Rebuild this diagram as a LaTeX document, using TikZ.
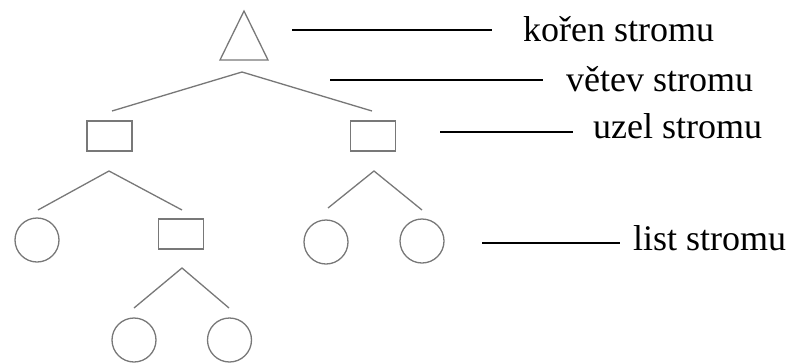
\documentclass[tikz,border=0pt]{standalone}
\usepackage{fontspec}
\setmainfont{Liberation Serif}
\usetikzlibrary{shapes.geometric}
\definecolor{treegray}{RGB}{120,120,120}
\tikzset{
  treeline/.style={draw=treegray, line width=1.3pt},
  rectbox/.style={treeline, rectangle, minimum width=45pt, minimum height=30pt, inner sep=0pt, outer sep=0pt},
  leafnode/.style={treeline, circle, minimum size=44pt, inner sep=0pt, outer sep=0pt},
  rootnode/.style={treeline, isosceles triangle, shape border rotate=90, isosceles triangle stretches, minimum width=48pt, minimum height=49pt, inner sep=0pt, outer sep=0pt},
  labeltext/.style={anchor=base west, inner sep=0pt, font=\fontsize{36}{40}\selectfont},
  labelline/.style={draw=black, line width=1.1pt}
}
\begin{document}
\begin{tikzpicture}[x=1pt,y=-1pt]
\useasboundingbox (0,0) rectangle (790,362);
% nodes
\node[rootnode, anchor=apex] (root) at (244,11) {};
\node[rectbox] (u1) at (109.5,136) {};
\node[rectbox] (u2) at (373,136) {};
\node[leafnode] (l1) at (37,240) {};
\node[rectbox] (u3) at (181,234) {};
\node[leafnode] (l2) at (326,242) {};
\node[leafnode] (l3) at (422,241) {};
\node[leafnode] (l4) at (134,340) {};
\node[leafnode] (l5) at (229.5,340) {};
% branch coordinates
\coordinate (b0) at (242,72);
\coordinate (b0l) at (112,111);
\coordinate (b0r) at (372,111);
\coordinate (b1) at (109,171);
\coordinate (b1l) at (38,210);
\coordinate (b1r) at (182,210);
\coordinate (b2) at (374,171);
\coordinate (b2l) at (328,208);
\coordinate (b2r) at (422,210);
\coordinate (b3) at (182,268);
\coordinate (b3l) at (134,308);
\coordinate (b3r) at (229,308);
\draw[treeline] (b0l) -- (b0) -- (b0r);
\draw[treeline] (b1l) -- (b1) -- (b1r);
\draw[treeline] (b2l) -- (b2) -- (b2r);
\draw[treeline] (b3l) -- (b3) -- (b3r);
% labels
\node[labeltext] (t1) at (523,41) {kořen stromu};
\node[labeltext] (t2) at (566,91) {větev stromu};
\node[labeltext] (t3) at (593,138.5) {uzel stromu};
\node[labeltext] (t4) at (633,250.5) {list stromu};
\coordinate (s1) at (292,30);
\coordinate (e1) at (492,30);
\coordinate (s2) at (330,80);
\coordinate (e2) at (543,80);
\coordinate (s3) at (440,132);
\coordinate (e3) at (573,132);
\coordinate (s4) at (482,243);
\coordinate (e4) at (620,243);
\draw[labelline] (s1) -- (e1);
\draw[labelline] (s2) -- (e2);
\draw[labelline] (s3) -- (e3);
\draw[labelline] (s4) -- (e4);
\end{tikzpicture}
\end{document}
